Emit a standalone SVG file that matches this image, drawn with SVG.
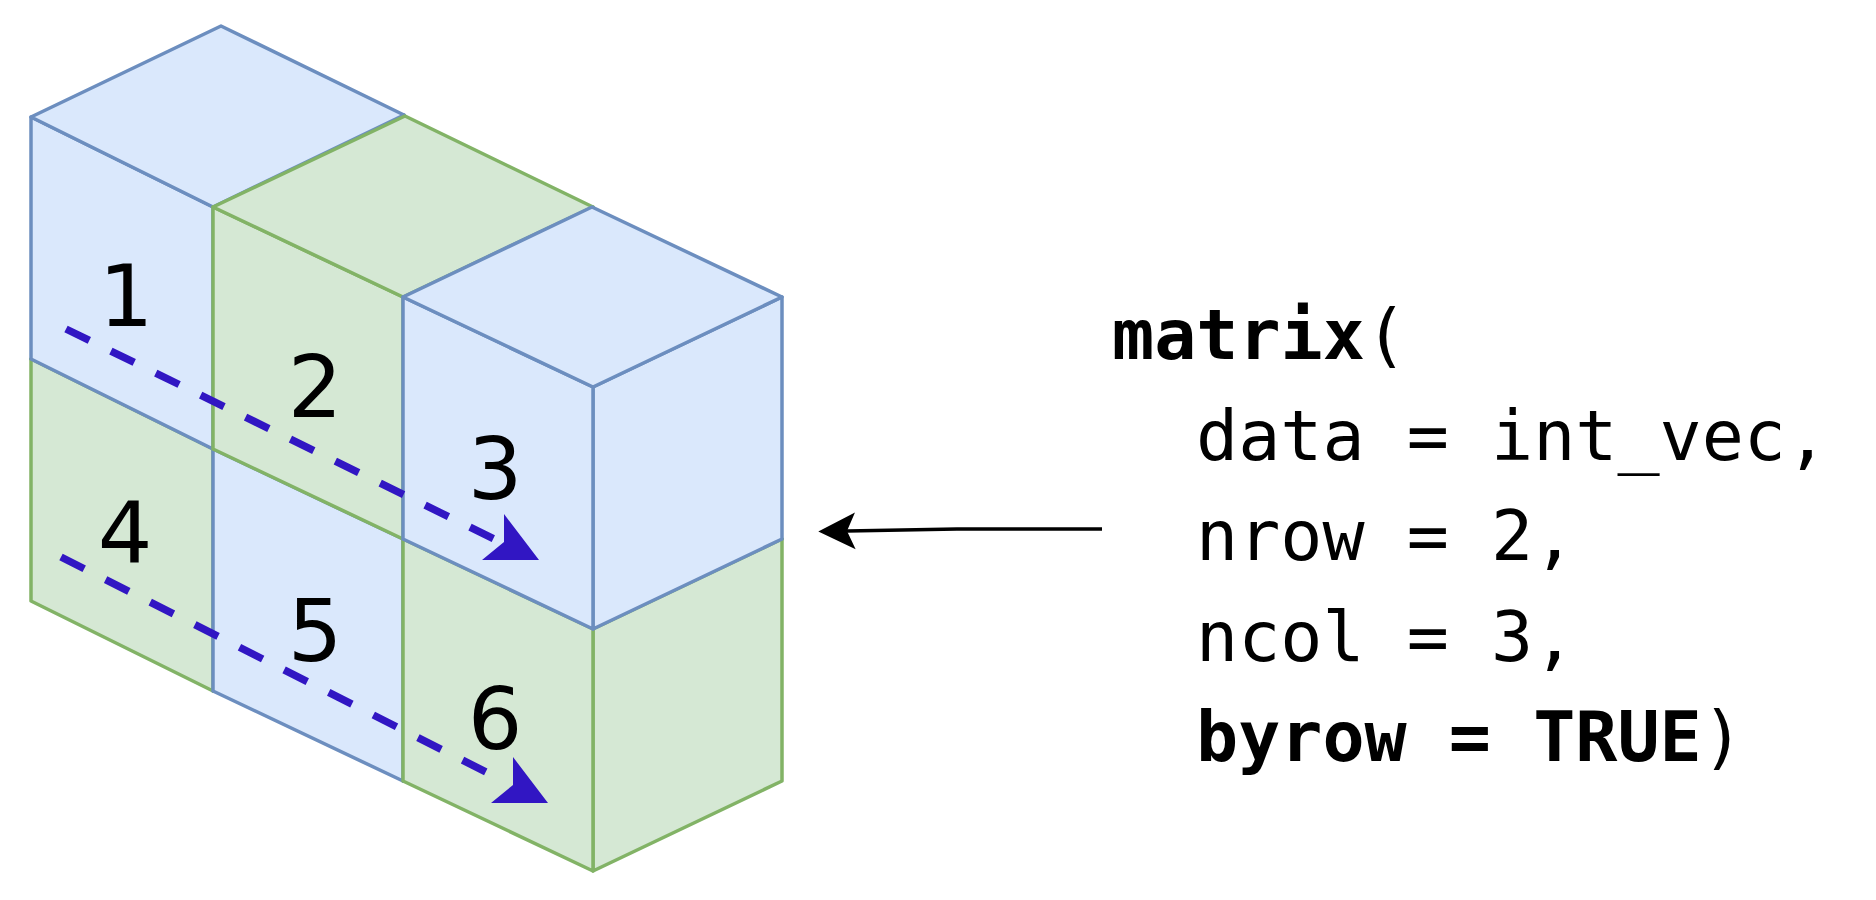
<svg xmlns="http://www.w3.org/2000/svg" width="1876" height="900" viewBox="0 0 1876 900">
<style>
.blue{fill:#dae8fc;stroke:#6c8ebf;stroke-width:3.5;stroke-linejoin:round}
.green{fill:#d5e8d4;stroke:#82b366;stroke-width:3.5;stroke-linejoin:round}
.num{font-family:"DejaVu Sans",sans-serif;font-size:86px;fill:#000;text-anchor:middle}
.code{font-family:"DejaVu Sans Mono","Liberation Mono",monospace;font-size:70px;fill:#000}
.b{font-weight:bold}
.dash{fill:none;stroke:#3116c3;stroke-width:7.5;stroke-dasharray:26 24}
.head{fill:#3116c3}
</style>
<defs>
<marker id="classic" markerUnits="userSpaceOnUse" viewBox="0 -19 38 38" markerWidth="38" markerHeight="38" refX="8.3" refY="0" orient="auto" overflow="visible">
<path d="M0,-18.3 L37,0 L0,18.3 L8.3,0 Z" fill="#000"/>
</marker>
<path id="bhead" d="M-35,-46 L-35,-18 L-57,0 L0,0 Z"/>
</defs>
<g id="cube-4">
<polygon class="green" points="31,359 221,269 404,357 213,449"/>
<polygon class="green" points="213,449 404,357 404,599 213,691"/>
<polygon class="green" points="31,359 213,449 213,691 31,601"/>
<text class="num" x="125" y="563">4</text>
</g>
<g id="cube-1">
<polygon class="blue" points="213,206 404,115 404,357 213,449"/>
<polygon class="blue" points="31,117 213,207 213,449 31,359"/>
<polygon class="blue" points="31,117 221,26 404,115 213,207"/>
<text class="num" x="126" y="326">1</text>
</g>
<g id="cube-5">
<polygon class="blue" points="213,449 403,359 593,449 403,539"/>
<polygon class="blue" points="403,539 593,449 593,691 403,781"/>
<polygon class="blue" points="213,449 403,539 403,781 213,691"/>
<text class="num" x="315" y="661">5</text>
</g>
<g id="cube-2">
<polygon class="green" points="403,297 593,207 593,449 403,539"/>
<polygon class="green" points="213,207 403,297 403,539 213,449"/>
<polygon class="green" points="213,207 405,116 593,207 403,297"/>
<text class="num" x="315" y="417">2</text>
</g>
<g id="cube-6">
<polygon class="green" points="403,539 593,449 782,539 593,629"/>
<polygon class="green" points="593,629 782,539 782,781 593,871"/>
<polygon class="green" points="403,539 593,629 593,871 403,781"/>
<text class="num" x="495" y="749">6</text>
</g>
<g id="cube-3">
<polygon class="blue" points="593,387 782,297 782,539 593,629"/>
<polygon class="blue" points="403,297 593,387 593,629 403,539"/>
<polygon class="blue" points="403,297 592,207 782,297 593,387"/>
<text class="num" x="495" y="499">3</text>
</g>
<g id="code">
<text class="code" x="1112" y="359"><tspan class="b">matrix</tspan>(</text>
<text class="code" x="1196" y="460">data = int_vec,</text>
<text class="code" x="1196" y="560">nrow = 2,</text>
<text class="code" x="1196" y="661">ncol = 3,</text>
<text class="code" x="1196" y="761"><tspan class="b">byrow = TRUE</tspan>)</text>
</g>
<g id="connectors">
<path class="dash" d="M66,329 L496,540"/>
<use href="#bhead" class="head" x="539" y="560"/>
<path class="dash" d="M61,557 L488,773"/>
<use href="#bhead" class="head" x="548" y="803"/>
<path d="M1102,529 L957,529 L847,531" fill="none" stroke="#000" stroke-width="3.5" marker-end="url(#classic)"/>
</g>
</svg>
